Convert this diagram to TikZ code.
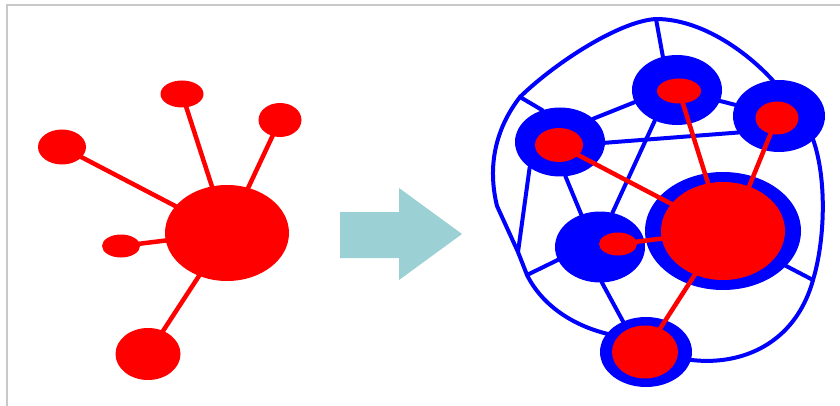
\documentclass[tikz,border=0pt]{standalone}
\usetikzlibrary{shapes.geometric}
\pgfdeclarelayer{bg}
\pgfdeclarelayer{bedges}
\pgfdeclarelayer{bnodes}
\pgfdeclarelayer{redges}
\pgfsetlayers{bg,bedges,bnodes,redges,main}
\definecolor{arrowteal}{RGB}{155,208,212}
\definecolor{framegray}{RGB}{200,200,200}
\begin{document}
\begin{tikzpicture}[x=1pt,y=-1pt,
  redn/.style={ellipse, fill=red, inner sep=0pt, outer sep=0pt},
  bluen/.style={ellipse, fill=blue, inner sep=0pt, outer sep=0pt},
  redl/.style={draw=red, line width=4.5pt},
  bluel/.style={draw=blue, line width=4pt, line cap=round, line join=round},
  framel/.style={draw=framegray, line width=1.2pt}]
\useasboundingbox (0,0) rectangle (840,406);
\begin{pgfonlayer}{bg}
\fill[white] (0,0) rectangle (840,406);
\draw[framel] (7,406) -- (7,5) -- (840,5);
\end{pgfonlayer}

% ---------- left graph ----------
\node[redn, minimum width=124pt, minimum height=96pt] (c0) at (227,233) {};
\node[redn, minimum width=43pt, minimum height=27pt] (a1) at (182,94) {};
\node[redn, minimum width=43pt, minimum height=34pt] (a2) at (280,120) {};
\node[redn, minimum width=48pt, minimum height=35pt] (a3) at (62,147) {};
\node[redn, minimum width=38pt, minimum height=23pt] (a4) at (121,246) {};
\node[redn, minimum width=65pt, minimum height=52pt] (a5) at (148,354) {};
\begin{pgfonlayer}{redges}
\draw[redl] (c0.center) -- (a1.center);
\draw[redl] (c0.center) -- (a2.center);
\draw[redl] (c0.center) -- (a3.center);
\draw[redl] (c0.center) -- (a4.center);
\draw[redl] (c0.center) -- (a5.center);
\end{pgfonlayer}

% ---------- arrow ----------
\fill[arrowteal] (340,212) -- (399,212) -- (399,188) -- (462,234) -- (399,280) -- (399,258) -- (340,258) -- cycle;

% ---------- right graph ----------
\begin{pgfonlayer}{bnodes}
\node[bluen, minimum width=156pt, minimum height=118pt] (G) at (723,231) {};
\node[bluen, minimum width=90pt, minimum height=70pt] (T) at (677,90) {};
\node[bluen, minimum width=92pt, minimum height=72pt] (R) at (779,116) {};
\node[bluen, minimum width=90pt, minimum height=69pt] (L) at (560,142) {};
\node[bluen, minimum width=90pt, minimum height=71pt] (M) at (600,247) {};
\node[bluen, minimum width=92pt, minimum height=70pt] (B) at (646,352) {};
\end{pgfonlayer}
\node[redn, minimum width=124pt, minimum height=98pt] (Gr) at (723,231) {};
\node[redn, minimum width=44pt, minimum height=25pt] (Tr) at (679,91) {};
\node[redn, minimum width=43pt, minimum height=33pt] (Rr) at (777,118) {};
\node[redn, minimum width=48pt, minimum height=34pt] (Lr) at (559,145) {};
\node[redn, minimum width=38pt, minimum height=23pt] (Mr) at (618,244) {};
\node[redn, minimum width=66pt, minimum height=53pt] (Br) at (645,352) {};

\coordinate (jt) at (656,19);
\coordinate (ju) at (520,97);
\coordinate (jl) at (518,252);
\coordinate (jm) at (527,275);
\coordinate (jr) at (813,280);

\begin{pgfonlayer}{bedges}
% outer loop
\draw[bluel] (jt) .. controls (620,21) and (556,62) .. (ju)
  .. controls (496,128) and (487,165) .. (497,206)
  -- (jl) -- (jm)
  .. controls (542,305) and (572,325) .. (B.155)
  -- (B.-10)
  .. controls (740,366) and (795,345) .. (jr)
  .. controls (825,240) and (827,180) .. (R.-35)
  -- (R.100)
  .. controls (745,50) and (700,19) .. (jt);
% spokes
\draw[bluel] (jt) -- (T.113);
\draw[bluel] (ju) -- (L.119);
\draw[bluel] (L.220) -- (jl);
\draw[bluel] (jm) -- (M.197);
\draw[bluel] (G.-29) -- (jr);
% inner edges
\draw[bluel] (L.35) -- (T.196);
\draw[bluel] (L.-1) -- (R.202);
\draw[bluel] (T) -- (R);
\draw[bluel] (T.234) -- (M.70);
\draw[bluel] (L.-81) -- (M.120);
\draw[bluel] (M.-87) -- (B.127);
\end{pgfonlayer}

\begin{pgfonlayer}{redges}
\draw[redl] (Lr.center) -- (Gr.center);
\draw[redl] (Tr.center) -- (Gr.center);
\draw[redl] (Rr.center) -- ([xshift=8pt]Gr.center);
\draw[redl] (Mr.center) -- (Gr.center);
\draw[redl] (Br.center) -- (Gr.center);
\end{pgfonlayer}
\end{tikzpicture}
\end{document}
